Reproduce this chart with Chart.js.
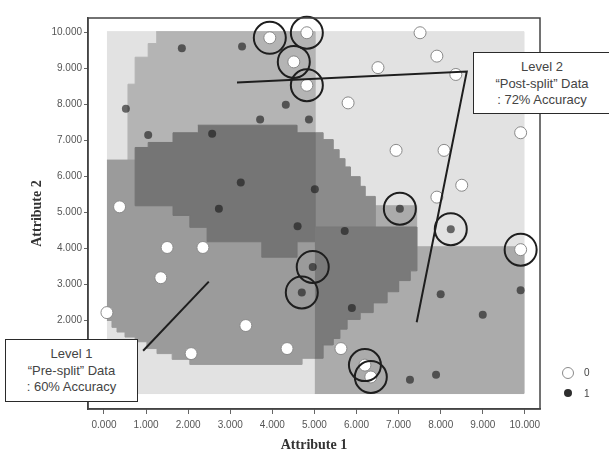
<!DOCTYPE html>
<html><head><meta charset="utf-8">
<script src="https://cdn.jsdelivr.net/npm/chart.js@4/dist/chart.umd.min.js"></script>
<style>
html,body{margin:0;padding:0;background:#fff;}
#wrap{position:relative;width:609px;height:455px;overflow:hidden;background:#fff;}
canvas{position:absolute;left:0;top:0;}
.box{position:absolute;background:#fff;border:1.5px solid #2a2a2a;box-sizing:border-box;font-family:'Liberation Sans',Arial,sans-serif;font-size:13px;color:#444;text-align:center;line-height:16.5px;padding-top:6px;}
.leg{position:absolute;font-family:'Liberation Sans',Arial,sans-serif;font-size:10px;color:#444;line-height:12px;}
.dot{position:absolute;border-radius:50%;box-sizing:border-box;}
</style></head><body>
<div id="wrap"><canvas id="c" width="609" height="455"></canvas>
<div class="box" style="left:473px;top:52px;width:138px;height:62px;">Level 2<br>“Post-split” Data<br>: 72% Accuracy</div>
<div class="box" style="left:5px;top:339px;width:133px;height:63px;">Level 1<br>“Pre-split” Data<br>: 60% Accuracy</div>
<div class="dot" style="left:562px;top:367px;width:12px;height:12px;background:#fff;border:1px solid #8a8a8a;"></div>
<div class="leg" style="left:584px;top:367px;">0</div>
<div class="dot" style="left:564px;top:389px;width:8px;height:8px;background:#2e2e2e;"></div>
<div class="leg" style="left:584px;top:388px;">1</div>
</div>
<script>
// ---- data (Attribute 1, Attribute 2) ----
const class0 = [[0.07,2.22],[0.37,5.16],[1.50,4.03],[2.35,4.03],[1.35,3.19],[3.37,1.86],[2.07,1.08],[4.35,1.22],[5.63,1.22],[6.20,0.76],[6.34,0.43],[9.90,3.97],[3.94,9.86],[4.82,10.0],[4.51,9.19],[4.82,8.54],[5.80,8.05],[7.51,10.0],[7.91,9.35],[6.51,9.03],[8.36,8.84],[9.90,7.22],[6.94,6.73],[8.08,6.73],[8.50,5.76],[7.91,5.43]];
const class1 = [[1.85,9.57],[3.28,9.62],[0.52,7.89],[4.32,8.00],[3.71,7.59],[4.87,7.59],[1.05,7.16],[2.57,7.19],[3.25,5.84],[5.01,5.65],[2.73,5.11],[4.60,4.62],[5.72,4.49],[4.96,3.49],[4.70,2.78],[7.03,5.11],[8.24,4.54],[9.90,2.84],[8.00,2.73],[9.00,2.16],[5.89,2.35],[7.89,0.49],[7.27,0.35]];
const circled = [[3.94,9.86],[4.82,10.0],[4.51,9.19],[4.82,8.54],[7.03,5.11],[8.24,4.54],[9.90,3.97],[4.96,3.49],[4.70,2.78],[6.20,0.76],[6.34,0.43]];
const xTickValues = [0,1,2,3,4,5,6,7,8,9,10];
const xTickLabels = ['0.000','1.000','2.000','3.000','4.000','5.000','6.000','7.000','8.000','9.000','10.000'];
const yTickValues = [0,1,2,3,4,5,6,7,8,9,10];
const yTickLabels = ['0.000','1.000','2.000','3.000','4.000','5.000','6.000','7.000','8.000','9.000','10.000'];
// decision-surface regions (polygons in data units)
const regionLight = [[0.07,-0.03],[9.98,-0.03],[9.98,10.03],[0.07,10.03]];
const regionTopLeft = [[1.24,10.03],[5.01,10.03],[5.01,6.46],[0.57,6.46],[0.57,8.57],[0.74,8.57],[0.74,9.32],[1.05,9.32],[1.05,9.70],[1.24,9.70]];
const regionLowerLeft = [[0.07,6.46],[5.01,6.46],[5.01,0.95],[4.70,0.95],[4.70,0.78],[2.04,0.78],[2.04,0.92],[1.62,0.92],[1.62,1.08],[1.26,1.08],[1.26,1.22],[1.02,1.22],[1.02,1.41],[0.74,1.41],[0.74,1.54],[0.50,1.54],[0.50,1.68],[0.31,1.68],[0.31,1.81],[0.19,1.81],[0.19,2.00],[0.07,2.00]];
const regionLowerRight = [[5.01,-0.03],[9.98,-0.03],[9.98,4.05],[7.43,4.05],[7.43,5.19],[6.44,5.19],[6.44,4.05],[5.01,4.05]];
const regionMidDark = [[5.01,7.22],[5.20,7.22],[5.20,7.03],[5.44,7.03],[5.44,6.75],[5.58,6.75],[5.58,6.50],[5.72,6.50],[5.72,6.27],[5.85,6.27],[5.85,6.00],[6.08,6.00],[6.08,5.73],[6.20,5.73],[6.20,5.45],[6.44,5.45],[6.44,4.57],[5.01,4.57]];
const regionDarkCore = [[2.23,7.43],[4.58,7.43],[4.58,7.22],[5.01,7.22],[5.01,4.19],[4.58,4.19],[4.58,3.76],[3.75,3.76],[3.75,4.19],[2.45,4.19],[2.45,4.59],[2.04,4.59],[2.04,4.92],[1.64,4.92],[1.64,5.19],[0.74,5.19],[0.74,6.81],[1.05,6.81],[1.05,6.95],[1.64,6.95],[1.64,7.22],[2.23,7.22]];
const regionDarkQuarter = [[5.01,4.60],[7.43,4.60],[7.43,3.38],[7.27,3.38],[7.27,3.11],[7.00,3.11],[7.00,2.80],[6.72,2.80],[6.72,2.49],[6.39,2.49],[6.39,2.22],[6.08,2.22],[6.08,2.03],[5.77,2.03],[5.77,1.76],[5.60,1.76],[5.60,1.50],[5.44,1.50],[5.44,1.32],[5.20,1.32],[5.20,0.95],[5.01,0.95]];
const level2Pointer = [[3.16,8.62],[8.62,8.92],[7.43,1.95]];
const level1Pointer = [[2.49,3.08],[0.93,1.16]];

const toXY = arr => arr.map(([x,y]) => ({x, y}));
const region = (pts, color, order) => ({type:'line', data: toXY(pts), backgroundColor: color, borderColor: color, borderWidth: 1, pointRadius: 0, pointHoverRadius: 0, fill: 'shape', tension: 0, order});
const pointer = (pts) => ({type:'line', data: toXY(pts), borderColor:'#1e1e1e', borderWidth:2, pointRadius:0, fill:false, tension:0, order:0, clip:false});

const framePlugin = {id:'frame', afterDatasetsDraw(chart){
  const {ctx, chartArea:a} = chart; ctx.save(); ctx.strokeStyle='#444'; ctx.lineWidth=1.5;
  ctx.strokeRect(a.left, a.top, a.right-a.left, a.bottom-a.top); ctx.restore();}};

const tickFont = {family:"'Liberation Sans', Arial, sans-serif", size:10};
const titleFont = {family:"'Liberation Serif', 'Times New Roman', serif", size:14, weight:'bold'};

new Chart(document.getElementById('c'), {
  type: 'scatter',
  data: { datasets: [
    region(regionLight, '#e2e2e2', 100),
    region(regionTopLeft, '#b4b4b4', 99),
    region(regionLowerLeft, '#9b9b9b', 98),
    region(regionLowerRight, '#ababab', 97),
    region(regionMidDark, '#8b8b8b', 96),
    region(regionDarkCore, '#757575', 95),
    region(regionDarkQuarter, '#7a7a7a', 94),
    {type:'scatter', label:'0', data: toXY(class0), pointRadius:6, backgroundColor:'#ffffff', borderColor:'#8a8a8a', borderWidth:1, order:3},
    {type:'scatter', label:'1', data: toXY(class1), pointRadius:4, backgroundColor:'rgba(25,25,25,0.62)', borderColor:'rgba(25,25,25,0.62)', borderWidth:0, order:2},
    {type:'scatter', label:'misclassified', data: toXY(circled), pointRadius:16, backgroundColor:'rgba(0,0,0,0)', borderColor:'#1e1e1e', borderWidth:2, order:1, clip:false},
    pointer(level2Pointer),
    pointer(level1Pointer)
  ]},
  options: {
    responsive:false, animation:false, devicePixelRatio:1,
    layout:{padding:{left:0, right:69, top:7, bottom:0}},
    plugins:{legend:{display:false}, tooltip:{enabled:false}},
    events: [],
    scales:{
      x:{type:'linear', min:-0.38, max:10.36,
        afterBuildTicks: s => { s.ticks = xTickValues.map(v => ({value:v})); },
        afterFit: s => { s.height = 46; },
        grid:{display:true, drawOnChartArea:false, drawTicks:true, tickLength:5, color:'#666'},
        border:{display:true, color:'#444', width:1.5},
        ticks:{padding:5, color:'#555', font:tickFont, autoSkip:false, maxRotation:0, callback:(v,i) => xTickLabels[i]},
        title:{display:true, text:'Attribute 1', color:'#333', font:titleFont, padding:{top:0, bottom:1}}
      },
      y:{type:'linear', min:-0.46, max:10.41,
        afterBuildTicks: s => { s.ticks = yTickValues.map(v => ({value:v})); },
        afterFit: s => { s.width = 88; },
        grid:{display:true, drawOnChartArea:false, drawTicks:true, tickLength:4, color:'#666'},
        border:{display:true, color:'#444', width:1.5},
        ticks:{padding:2, color:'#555', font:tickFont, autoSkip:false, callback:(v,i) => yTickLabels[i]},
        title:{display:true, text:'Attribute 2', color:'#333', font:titleFont, padding:{top:29, bottom:0}}
      }
    }
  },
  plugins:[framePlugin]
});
</script>
</body></html>
